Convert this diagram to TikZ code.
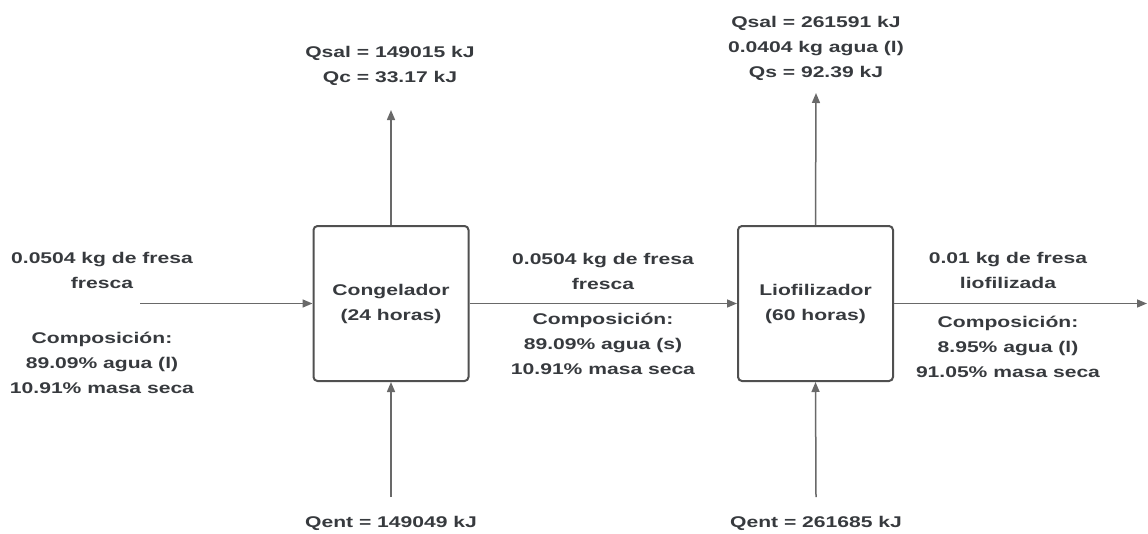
\documentclass[tikz,border=0pt]{standalone}
\usepackage{fontspec}
\setmainfont[FakeStretch=1.36]{Liberation Sans}
\usepackage{xcolor}
\usepackage{tikz}
\usetikzlibrary{arrows.meta, positioning}
\definecolor{txtGray}{RGB}{55,58,62}
\definecolor{lineGray}{RGB}{105,105,105}
\definecolor{boxGray}{RGB}{80,80,80}
\tikzset{
  unit/.style={draw=boxGray, line width=2pt, rounded corners=4pt, fill=white,
    minimum width=155pt, minimum height=155pt, align=center, text=txtGray,
    font=\fontsize{15.5}{25}\selectfont\bfseries},
  info/.style={align=center, text=txtGray, inner sep=0pt,
    font=\fontsize{15.5}{25}\selectfont\bfseries},
  flow/.style={draw=lineGray, line width=1.5pt, -{Triangle[length=10pt,width=8pt]}}
}

\begin{document}
\begin{tikzpicture}[x=1pt,y=-1pt]
  \useasboundingbox (0,0) rectangle (1148,533);
  % Units
  \node[unit] (cong) at (391,303.5) {Congelador\\(24 horas)};
  \node[unit] (liof) at (815.5,303.5) {Liofilizador\\(60 horas)};
  % Free ends
  \coordinate (feed) at (140,303.5);
  \coordinate (prod) at (1147,303.5);
  \coordinate (congOut) at (391,110);
  \coordinate (liofOut) at (816,93);
  \coordinate (congIn) at (391,497);
  \coordinate (liofIn) at (816,497);
  % Mass flows
  \draw[flow] (feed) -- (cong.west);
  \draw[flow] (cong.east) -- (liof.west);
  \draw[flow] (liof.east) -- (prod);
  % Heat flows
  \draw[flow] (cong.north) -- (congOut);
  \draw[flow] (liof.north) -- (liofOut);
  \draw[flow] (congIn) -- (cong.south);
  \draw[flow] (liofIn) -- (liof.south);
  % Labels
  \node[info] (feedLbl) at (102,270) {0.0504 kg de fresa\\fresca};
  \node[info] (feedComp) at (102,363) {Composición:\\89.09\% agua (l)\\10.91\% masa seca};
  \node[info] (midLbl) at (603,271) {0.0504 kg de fresa\\fresca};
  \node[info] (midComp) at (603,344) {Composición:\\89.09\% agua (s)\\10.91\% masa seca};
  \node[info] (prodLbl) at (1008,270) {0.01 kg de fresa\\liofilizada};
  \node[info] (prodComp) at (1008,347) {Composición:\\8.95\% agua (l)\\91.05\% masa seca};
  \node[info] (congQout) at (390,66) {Qsal = 149015 kJ\\Qc = 33.17 kJ};
  \node[info] (liofQout) at (816,48) {Qsal = 261591 kJ\\0.0404 kg agua (l)\\Qs = 92.39 kJ};
  \node[info] (congQin) at (391,523) {Qent = 149049 kJ};
  \node[info] (liofQin) at (816,523) {Qent = 261685 kJ};
\end{tikzpicture}
\end{document}
